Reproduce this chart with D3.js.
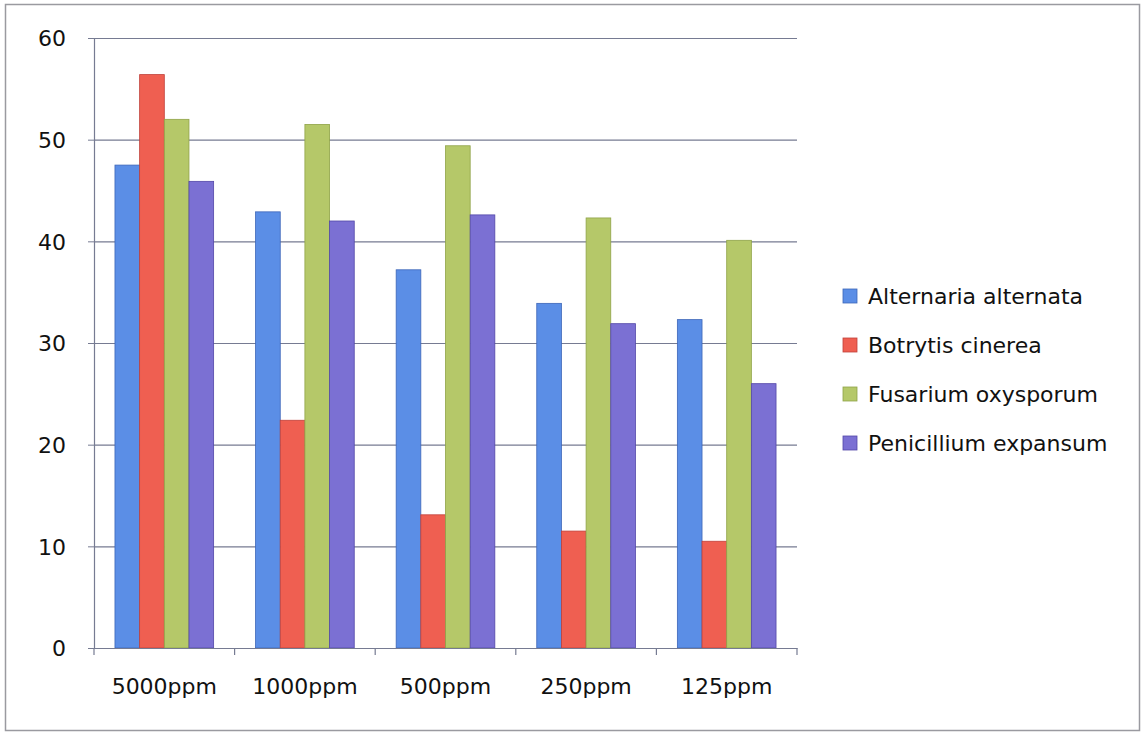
<!DOCTYPE html>
<html>
<head>
<meta charset="utf-8">
<script src="https://cdn.jsdelivr.net/npm/d3@7"></script>
<style>
body{margin:0;background:#fff;}
svg{display:block;}
text{font-family:"DejaVu Sans",sans-serif;fill:#111;}
</style>
</head>
<body>
<svg id="chart" width="1142" height="734"></svg>
<script>
const categories = ["5000ppm","1000ppm","500ppm","250ppm","125ppm"];
const seriesNames = ["Alternaria alternata","Botrytis cinerea","Fusarium oxysporum","Penicillium expansum"];
const alternaria = [47.5, 42.9, 37.2, 33.9, 32.3];
const botrytis   = [56.4, 22.4, 13.1, 11.5, 10.5];
const fusarium   = [52.0, 51.5, 49.4, 42.3, 40.1];
const penicillium= [45.9, 42.0, 42.6, 31.9, 26.0];
const yTicks = [0,10,20,30,40,50,60];
const colors = ["#5b8ee6","#ef5f51","#b5c869","#7b70d3"];
const strokes = ["#3d66b8","#c0403a","#8fa348","#5347a8"];

const seriesValues = [alternaria, botrytis, fusarium, penicillium];

const svg = d3.select("#chart");
const m = {left:94, right:797, top:38, bottom:648};

// outer frame
svg.append("rect").attr("x",5.5).attr("y",4.5).attr("width",1134).attr("height",726)
  .attr("fill","none").attr("stroke","#9a9aa0").attr("stroke-width",1.5);

const x0 = d3.scaleBand().domain(categories).range([m.left, m.right]).paddingInner(0).paddingOuter(0);
const x1 = d3.scaleBand().domain(seriesNames).range([0, x0.bandwidth()]).paddingOuter(0.85).paddingInner(0);
const y = d3.scaleLinear().domain([0,60]).range([m.bottom, m.top]);

// gridlines
svg.append("g").selectAll("line").data(yTicks.filter(d=>d>0)).join("line")
  .attr("x1",m.left).attr("x2",m.right)
  .attr("y1",d=>y(d)+0.5).attr("y2",d=>y(d)+0.5)
  .attr("stroke","#767b92").attr("stroke-width",1.2);

// bars
const groups = svg.append("g").selectAll("g").data(categories).join("g")
  .attr("transform",c=>`translate(${x0(c)},0)`);
groups.selectAll("rect").data((c,i)=>seriesNames.map((s,j)=>({s,j,v:seriesValues[j][i]}))).join("rect")
  .attr("x",d=>x1(d.s)).attr("width",x1.bandwidth())
  .attr("y",d=>y(d.v)).attr("height",d=>y(0)-y(d.v))
  .attr("fill",d=>colors[d.j]).attr("stroke",d=>strokes[d.j]).attr("stroke-width",0.8);

// y axis
const yAxis = d3.axisLeft(y).tickValues(yTicks).tickSize(6).tickPadding(22);
const gy = svg.append("g").attr("transform",`translate(${m.left},0)`).call(yAxis);
gy.select(".domain").attr("stroke","#767b92").attr("stroke-width",1.2);
gy.selectAll(".tick line").attr("stroke","#767b92");
gy.selectAll(".tick text").style("font-size","22px").style("font-family","DejaVu Sans").attr("dy","0.35em");

// x axis
const xAxis = d3.axisBottom(x0).tickSize(0).tickPadding(30);
const gx = svg.append("g").attr("transform",`translate(0,${m.bottom})`).call(xAxis);
gx.select(".domain").attr("stroke","#767b92").attr("stroke-width",1.2);
gx.selectAll(".tick text").style("font-size","22px").style("font-family","DejaVu Sans");
// boundary tick marks
const bounds = categories.map(c=>x0(c)).concat([m.right]);
svg.append("g").selectAll("line").data(bounds).join("line")
  .attr("x1",d=>d).attr("x2",d=>d).attr("y1",m.bottom).attr("y2",m.bottom+7)
  .attr("stroke","#767b92").attr("stroke-width",1.2);

// legend
const legY = d3.scalePoint().domain(seriesNames).range([296, 443]);
const leg = svg.append("g").selectAll("g").data(seriesNames).join("g")
  .attr("transform",d=>`translate(843,${legY(d)})`);
leg.append("rect").attr("x",0).attr("y",-7).attr("width",14).attr("height",14)
  .attr("fill",(d,i)=>colors[i]).attr("stroke",(d,i)=>strokes[i]).attr("stroke-width",0.8);
leg.append("text").attr("x",25).attr("y",0).attr("dy","0.35em").style("font-size","22px").text(d=>d);
</script>
</body>
</html>
